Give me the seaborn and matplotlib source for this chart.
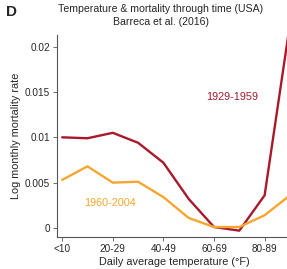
import numpy as np
import pandas as pd
import matplotlib
matplotlib.use("Agg")
import matplotlib.pyplot as plt
import seaborn as sns

sns.set_style("ticks")
plt.rcParams["font.family"] = ["Liberation Sans", "DejaVu Sans"]

# ---- data ----
temp_bins = ["<10", "10-19", "20-29", "30-39", "40-49",
             "50-59", "60-69", "70-79", "80-89", "90+"]
early = [0.0100, 0.0099, 0.0105, 0.0094, 0.0072,
         0.0032, 0.0001, -0.0003, 0.0036, 0.0225]
late = [0.0053, 0.0068, 0.0050, 0.0051, 0.0034,
        0.0011, 0.0001, 0.0001, 0.0014, 0.0036]
periods = ["1929-1959", "1960-2004"]
colors = {"1929-1959": "#A8192B", "1960-2004": "#F6A630"}
shown_ticks = ["<10", "20-29", "40-49", "60-69", "80-89"]

df = pd.DataFrame({
    "pos": list(range(len(temp_bins))) * 2,
    "rate": early + late,
    "period": [periods[0]] * len(early) + [periods[1]] * len(late),
})

fig = plt.figure(figsize=(2.87, 2.69), dpi=100)
ax = fig.add_axes([0.199, 0.119, 0.82, 0.751])

sns.lineplot(data=df, x="pos", y="rate", hue="period", palette=colors,
             linewidth=1.7, legend=False, ax=ax)

ax.set_xlim(-0.2, 9.1)
ax.set_ylim(-0.001, 0.0213)
ax.set_xticks([temp_bins.index(t) for t in shown_ticks])
ax.set_xticklabels(shown_ticks)
ax.set_yticks([0, 0.005, 0.01, 0.015, 0.02])
ax.set_yticklabels(["0", "0.005", "0.01", "0.015", "0.02"])
ax.tick_params(labelsize=7.2, length=3, width=0.6, color="#555555", pad=2)
for s in ["left", "bottom"]:
    ax.spines[s].set_linewidth(0.8)
    ax.spines[s].set_color("#555555")
sns.despine(ax=ax)

ax.set_xlabel("Daily average temperature (°F)", fontsize=7.8, labelpad=2)
ax.set_ylabel("Log monthly mortality rate", fontsize=7.8, labelpad=3)

ax.text(6.7, 0.0145, "1929-1959", color=colors["1929-1959"], fontsize=7.8,
        ha="center", va="center")
ax.text(1.9, 0.0028, "1960-2004", color=colors["1960-2004"], fontsize=7.8,
        ha="center", va="center")

fig.text(0.56, 0.965, "Temperature & mortality through time (USA)",
         fontsize=7.6, ha="center", va="center")
fig.text(0.56, 0.92, "Barreca et al. (2016)", fontsize=7.6,
         ha="center", va="center")
fig.text(0.04, 0.955, "D", fontsize=11, fontweight="bold",
         ha="center", va="center")

fig.savefig("out.png", dpi=100)
